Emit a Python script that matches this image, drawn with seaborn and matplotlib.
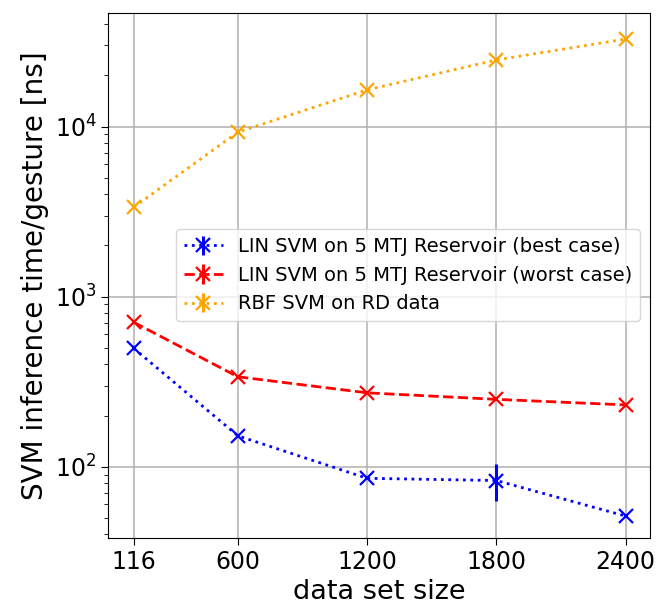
import numpy as np
import pandas as pd
import matplotlib
matplotlib.use("Agg")
import matplotlib.pyplot as plt
import seaborn as sns

sizes = [116, 600, 1200, 1800, 2400]
lin_best = [497, 152, 85.5, 83, 51.3]
lin_best_err = [0, 0, 0, 20.5, 0]
lin_worst = [707, 338, 272, 249, 231]
rbf = [3357, 9270, 16440, 24640, 32700]
labels = ["LIN SVM on 5 MTJ Reservoir (best case)",
          "LIN SVM on 5 MTJ Reservoir (worst case)",
          "RBF SVM on RD data"]
colors = ["blue", "red", "orange"]
styles = [":", "--", ":"]

fig = plt.figure(figsize=(6.56, 6.06), dpi=100)
ax = fig.add_axes([0.165, 0.1125, 0.826, 0.8665])
ax.set_yscale("log")

series = [lin_best, lin_worst, rbf]
for vals, c, ls in zip(series, colors, styles):
    df = pd.DataFrame({"size": sizes, "time": vals})
    sns.lineplot(data=df, x="size", y="time", ax=ax, color=c, linestyle=ls,
                 linewidth=2, marker="x", markersize=9.5, markeredgewidth=1.6,
                 markeredgecolor=c, legend=False, errorbar=None)

ax.errorbar(sizes, lin_best, yerr=lin_best_err, fmt="none", ecolor="blue",
            elinewidth=2.2)

handles = []
for lab, c, ls in zip(labels, colors, styles):
    h = ax.errorbar([], [], yerr=[], fmt=ls, marker="x", color=c, linewidth=2,
                    markersize=9.5, markeredgewidth=1.6, elinewidth=2.2, label=lab)
    handles.append(h)

ax.legend(handles=handles, labels=labels, loc="center right", fontsize=14)

ax.set_ylim(38.2, 46700)
ax.set_xlim(-2, 2514)
ax.set_xticks(sizes)
ax.set_xticklabels([str(s) for s in sizes])
ax.grid(True, which="major", color="#b0b0b0", linewidth=1.1)
ax.tick_params(axis="both", which="major", labelsize=17, length=5)
ax.tick_params(axis="y", which="minor", length=3)
ax.set_xlabel("data set size", fontsize=19.5)
ax.set_ylabel("SVM inference time/gesture [ns]", fontsize=20)

fig.savefig("out.png", dpi=100)
